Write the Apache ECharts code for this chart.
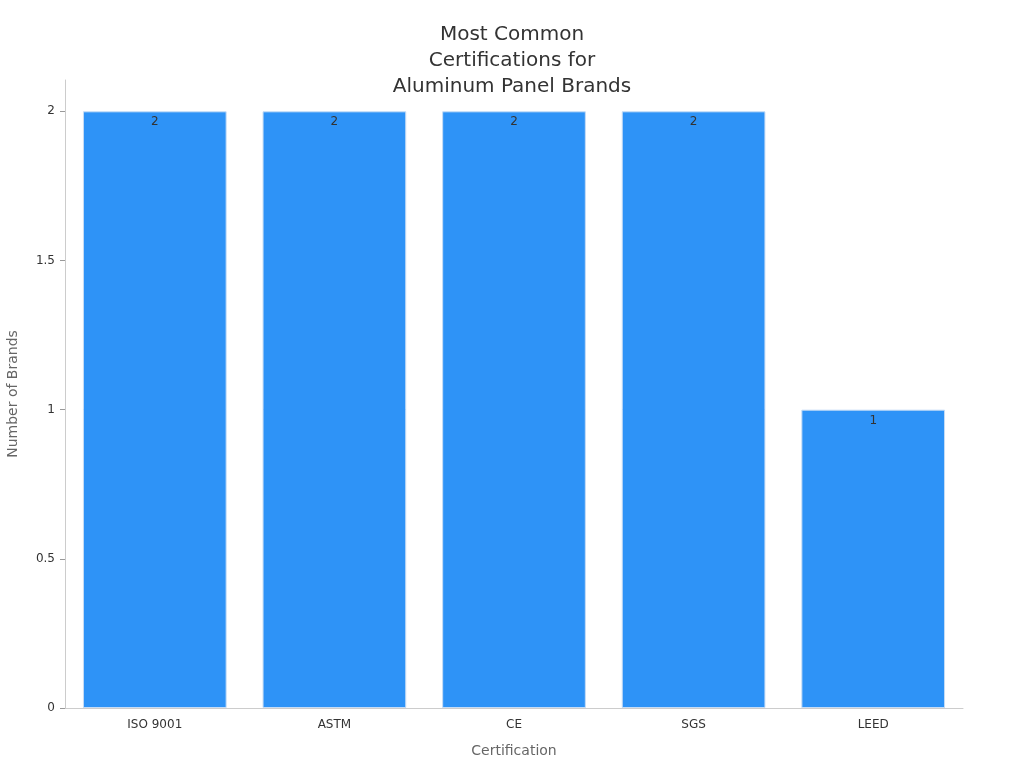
<!DOCTYPE html>
<html>
<head>
<meta charset="utf-8">
<script src="https://cdn.jsdelivr.net/npm/echarts@6/dist/echarts.min.js"></script>
<style>
  html, body { margin: 0; padding: 0; background: #fff; }
  #chart { width: 1024px; height: 768px; }
</style>
</head>
<body>
<div id="chart"></div>
<script>
// data
const categories = ['ISO 9001', 'ASTM', 'CE', 'SGS', 'LEED'];
const brandCounts = [2, 2, 2, 2, 1];
const yTicks = [0, 0.5, 1, 1.5, 2];

const chart = echarts.init(document.getElementById('chart'));

const option = {
    backgroundColor: '#ffffff',
    textStyle: { fontFamily: 'DejaVu Sans' },
    title: {
        text: 'Most Common\nCertifications for\nAluminum Panel Brands',
        left: 'center',
        top: 17,
        textStyle: {
            fontFamily: 'DejaVu Sans',
            fontSize: 20,
            fontWeight: 'normal',
            color: '#333',
            lineHeight: 26
        }
    },
    grid: {
        left: 65,
        right: 61,
        top: 80,
        bottom: 60,
        outerBoundsMode: 'none'
    },
    xAxis: {
        type: 'category',
        data: categories,
        name: 'Certification',
        nameLocation: 'middle',
        nameGap: 36,
        nameTextStyle: { color: '#666', fontSize: 14 },
        axisLine: { lineStyle: { color: '#ccc' } },
        axisTick: { alignWithLabel: true, lineStyle: { color: '#999' } },
        axisLabel: { color: '#333', fontSize: 12, margin: 11 }
    },
    yAxis: {
        type: 'value',
        min: 0,
        max: 2.105,
        interval: 0.5,
        name: 'Number of Brands',
        nameLocation: 'middle',
        nameGap: 45,
        nameTextStyle: { color: '#666', fontSize: 14 },
        axisLine: { show: true, lineStyle: { color: '#ccc' } },
        axisTick: { show: true, customValues: yTicks, lineStyle: { color: '#999' } },
        axisLabel: { color: '#333', fontSize: 12, margin: 10, customValues: yTicks },
        splitLine: { show: false }
    },
    series: [
        {
            type: 'bar',
            data: brandCounts,
            barCategoryGap: '20%',
            itemStyle: {
                color: '#2E93F7',
                borderColor: '#c6dcf5',
                borderWidth: 1
            },
            label: {
                show: true,
                position: 'insideTop',
                distance: 5,
                color: '#333',
                fontSize: 12
            }
        }
    ]
};

chart.setOption(option);
</script>
</body>
</html>
